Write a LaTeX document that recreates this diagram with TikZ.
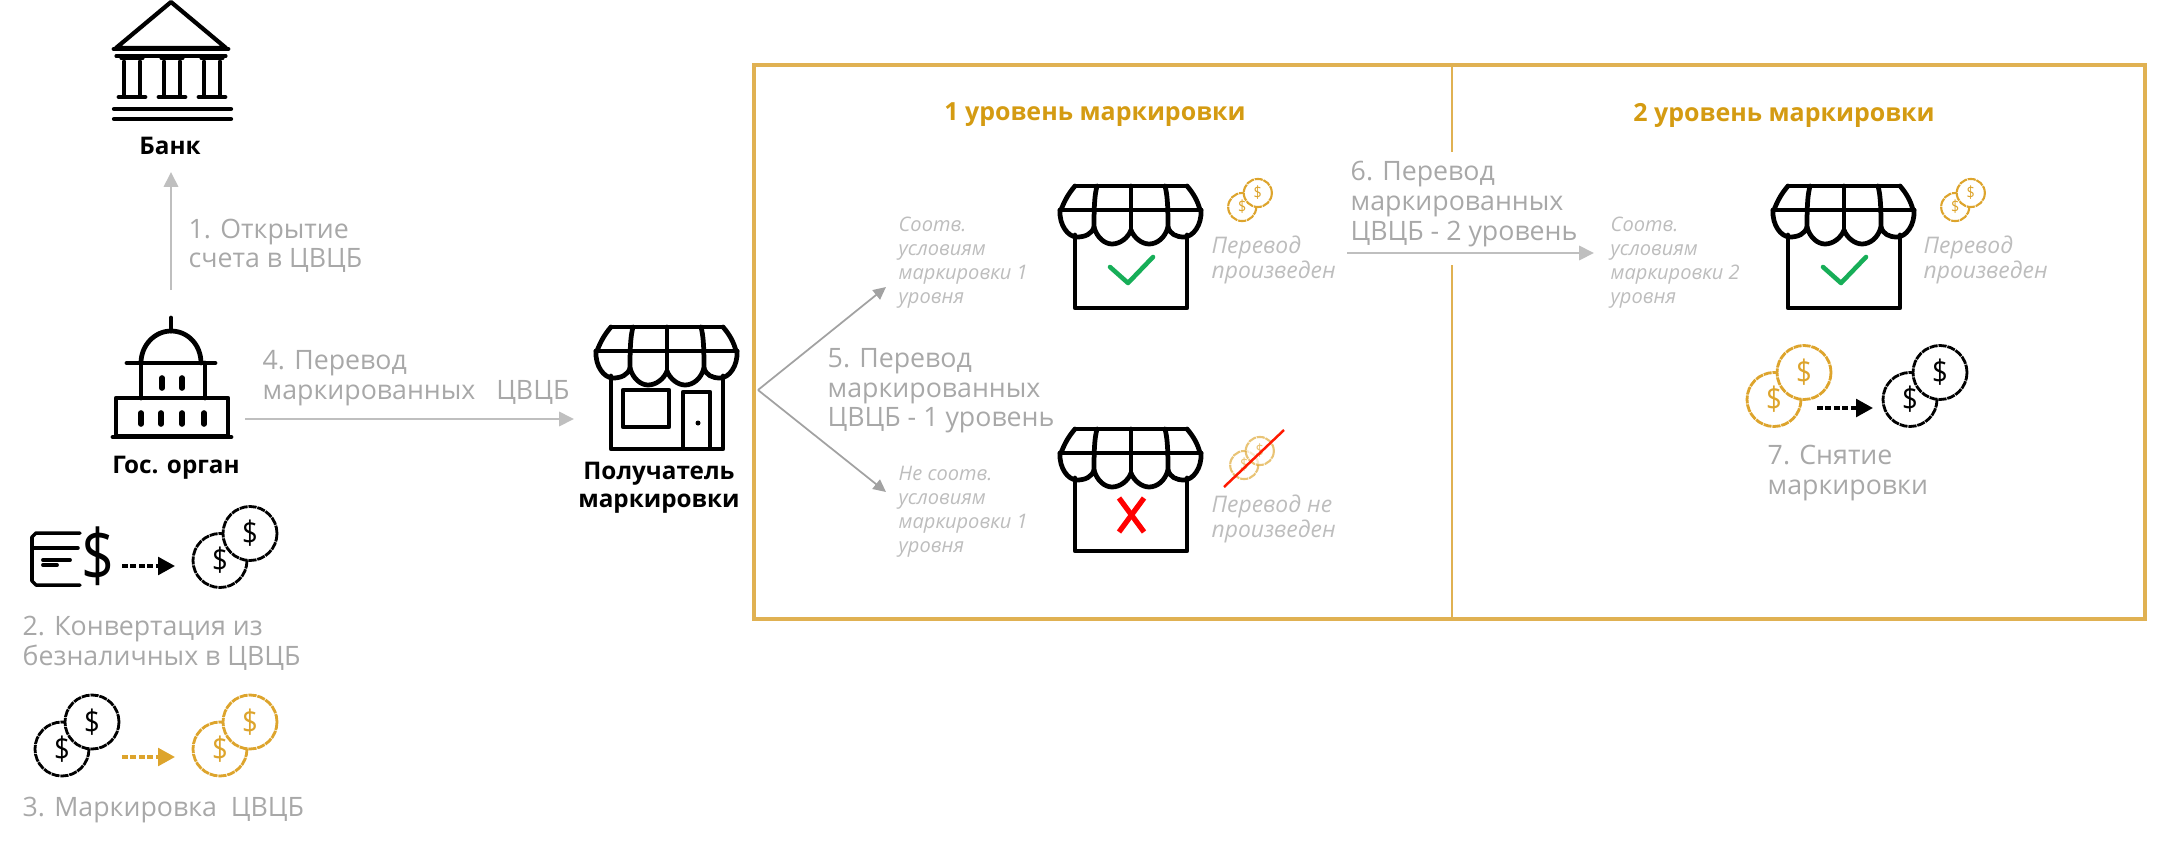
\documentclass[tikz,border=0pt]{standalone}
\usepackage{fontspec}
\setmainfont{Open Sans}
\usetikzlibrary{arrows.meta}
\definecolor{goldline}{HTML}{E0B152}
\definecolor{goldtext}{HTML}{D49B12}
\definecolor{goldcoin}{HTML}{DDA42C}
\definecolor{greytext}{HTML}{A8A8A8}
\definecolor{paletext}{HTML}{BDBDBD}
\definecolor{greyline}{HTML}{BFBFBF}
\definecolor{okgreen}{HTML}{17AE58}
\tikzset{
  x=0.01cm,y=-0.01cm,
  icon/.style={draw=black,line width=1.35pt,line cap=round,line join=round},
  steptext/.style={inner sep=0pt,anchor=west,align=left,text=greytext,font=\fontsize{7.6}{8.4}\selectfont},
  boldlabel/.style={inner sep=0pt,align=center,text=black,font=\bfseries\fontsize{6.9}{8}\selectfont},
  leveltitle/.style={inner sep=0pt,text=goldtext,font=\bfseries\fontsize{7.1}{8.4}\selectfont},
  smallnote/.style={inner sep=0pt,anchor=west,align=left,text=paletext,font=\itshape\fontsize{5.7}{6.8}\selectfont},
  donenote/.style={smallnote,font=\itshape\fontsize{6.5}{7}\selectfont},
  greyarrow/.style={draw=greyline,line width=.8pt,-{Triangle[length=4.2pt,width=4pt]}},
  thinarrow/.style={draw=greyline!85!black,line width=.5pt,-{Triangle[length=3.6pt,width=3.4pt]}},
  dasharrow/.style={draw=#1,line width=1pt,dash pattern=on 1.6pt off .8pt,-{Triangle[length=4.8pt,width=5pt,fill=#1]}},
  pics/coins/.style 2 args={code={
    \tikzset{coinline/.style={draw=#1,line width=#2,dash pattern=on 2.3pt off .25pt}}
    \draw[coinline,fill=white] (-15,13.5) circle[radius=27];
    \node[inner sep=0pt,text=#1,xscale=.85,font=\fontsize{9.2}{9.5}\selectfont] (-a) at (-15,13.5) {\$};
    \draw[coinline,fill=white] (15,-13.5) circle[radius=27];
    \node[inner sep=0pt,text=#1,xscale=.85,font=\fontsize{9.2}{9.5}\selectfont] (-b) at (15,-13.5) {\$};
  }},
  pics/shop/.style={code={
    \draw[icon] (15,50) -- (15,123) -- (127,123) -- (127,50);
    \draw[icon] (15,1) -- (127,1);
    \draw[icon] (0,25) -- (141,25);
    \draw[icon] (15,1) .. controls (8,9) and (4,17) .. (1,25);
    \draw[icon] (127,1) .. controls (134,9) and (138,17) .. (140,25);
    \draw[icon] (37,1) .. controls (35,9) and (34,17) .. (34,42);
    \draw[icon] (71,1) -- (71,45);
    \draw[icon] (105,1) .. controls (107,9) and (108,17) .. (108,42);
    \draw[icon] (0,25) .. controls (-1,40) and (8,52) .. (17,52) .. controls (25,52) and (32,49) .. (34,42)
      .. controls (37,53) and (45,59) .. (52,59) .. controls (60,59) and (68,53) .. (71,45)
      .. controls (74,53) and (82,59) .. (89,59) .. controls (97,59) and (105,53) .. (108,42)
      .. controls (110,49) and (116,52) .. (124,52) .. controls (133,52) and (142,40) .. (141,25);
  }},
}
\begin{document}
\begin{tikzpicture}
\useasboundingbox (0,0) rectangle (2160,845);

% frame
\coordinate (ftl) at (754,65);
\coordinate (fbr) at (2145,619);
\coordinate (dtop) at (1452,65);
\coordinate (dmida) at (1452,152);
\coordinate (dmidb) at (1452,265);
\coordinate (dbot) at (1452,619);
\draw[goldline,line width=1.05pt] (ftl) rectangle (fbr);
\draw[goldline,line width=.7pt] (dtop) -- (dmida);
\draw[goldline,line width=.7pt] (dmidb) -- (dbot);

\node[leveltitle] (t1) at (1095,115) {1 уровень маркировки};
\node[leveltitle] (t2) at (1784,115) {2 уровень маркировки};

% bank
\draw[icon,line width=1.2pt] (171,2) -- (116,48) -- (226,48) -- cycle;
\draw[icon,line width=1.4pt] (114,49) -- (228,49);
\draw[icon,line width=.9pt] (116,56) -- (226,56);
\foreach \cx in {132,172,212}{
  \draw[icon,line width=.9pt] (\cx-11,58) -- (\cx+11,58);
  \draw[icon] (\cx-8,62) -- (\cx-8,96);
  \draw[icon] (\cx+8,62) -- (\cx+8,96);
  \draw[icon] (\cx-13,97) -- (\cx+13,97);
}
\draw[icon,line width=1.2pt] (114,109) -- (231,109);
\draw[icon,line width=1.2pt] (114,119) -- (231,119);
\node[boldlabel] (banklabel) at (170,146) {Банк};

% government
\draw[icon] (171,318) -- (171,331);
\draw[icon] (141,363) .. controls (141,345) and (155,331) .. (171,331) .. controls (188,331) and (201,345) .. (201,363);
\draw[icon] (127,363) -- (215,363);
\draw[icon] (141,363) -- (141,398);
\draw[icon] (205,363) -- (205,398);
\foreach \wx in {162,182}{\draw[icon,line width=1.6pt] (\wx,378) -- (\wx,388);}
\draw[icon] (116,398) rectangle (228,436);
\draw[icon] (113,437) -- (231,437);
\foreach \wx in {141,161,182,204}{\draw[icon,line width=1.6pt] (\wx,413) -- (\wx,424);}
\node[boldlabel] (govlabel) at (176,468) {Гос. орган};

% arrow 1
\coordinate (govtop) at (171,290);
\coordinate (bankbot) at (171,172);
\draw[greyarrow] (govtop) -- (bankbot);
\node[steptext] (s1) at (188,246) {1. Открытие\\счета в ЦВЦБ};

% arrow 4
\coordinate (govright) at (245,419);
\coordinate (shopleft) at (574,419);
\draw[greyarrow] (govright) -- (shopleft);
\node[steptext] (s4) at (262,378) {4. Перевод\\маркированных~~~ЦВЦБ};

% recipient shop
\pic (bigshop) at (596,326) {shop};
\draw[icon] (623,390) rectangle (669,427);
\draw[icon] (683,392) rectangle (710,449);
\fill (698,423) circle[radius=2.5];
\node[boldlabel] (reclabel) at (659,488) {Получатель\\маркировки};

% card and dollar
\draw[icon,line width=1pt] (80,533) -- (36,533) -- (32,537) -- (32,581) -- (36,585) -- (80,585);
\draw[icon,line width=1pt] (32,548) -- (78,548);
\draw[icon,line width=1.1pt] (43,560) -- (70,560);
\draw[icon,line width=1.1pt] (43,565) -- (57,565);
\node[inner sep=0pt,xscale=.8,font=\fontsize{20.5}{21}\selectfont] (bigdollar) at (98,556) {\$};
\coordinate (d2a) at (122,566);
\coordinate (d2b) at (175,566);
\draw[dasharrow=black] (d2a) -- (d2b);
\pic (c2) at (235,547) {coins={black}{.8pt}};
\node[steptext] (s2) at (22,643.5) {2. Конвертация из\\безналичных в ЦВЦБ};

\pic (c3a) at (77,735.5) {coins={black}{.8pt}};
\coordinate (d3a) at (122,757);
\coordinate (d3b) at (175,757);
\draw[dasharrow=goldcoin] (d3a) -- (d3b);
\pic (c3b) at (235,735.5) {coins={goldcoin}{.8pt}};
\node[steptext] (s3) at (22,810) {3. Маркировка~~ЦВЦБ};

% branch arrows
\coordinate (fork) at (758,390);
\coordinate (forkup) at (886,287);
\coordinate (forkdown) at (886,492);
\draw[thinarrow] (fork) -- (forkup);
\draw[thinarrow] (fork) -- (forkdown);
\node[steptext] (s5) at (827,391) {5. Перевод\\маркированных\\ЦВЦБ - 1 уровень};
\node[smallnote] (n1) at (898,263) {Соотв.\\условиям\\маркировки 1\\уровня};
\node[smallnote] (n2) at (898,512) {Не соотв.\\условиям\\маркировки 1\\уровня};

% shops of level 1
\pic (shopa) at (1060,185) {shop};
\draw[okgreen,line width=1.3pt,line cap=round,line join=round] (1110,267) -- (1128,283) -- (1153,257);
\pic (shopb) at (1060,428) {shop};
\draw[red,line width=1.5pt] (1119,498) -- (1144,532);
\draw[red,line width=1.5pt] (1144,498) -- (1119,532);
\pic[scale=.52,transform shape] (ca) at (1250,200) {coins={goldcoin}{.6pt}};
\node[donenote] (n3) at (1211,260) {Перевод\\произведен};
\begin{scope}[opacity=.65]
\pic[scale=.52,transform shape] (cb) at (1252,458) {coins={goldcoin}{.6pt}};
\end{scope}
\coordinate (slasha) at (1224,487);
\coordinate (slashb) at (1284,430);
\draw[red!80!orange,line width=.7pt] (slasha) -- (slashb);
\node[donenote] (n4) at (1211,519) {Перевод не\\произведен};

% arrow 6
\coordinate (a6a) at (1347,253);
\coordinate (a6b) at (1594,253);
\draw[greyarrow] (a6a) -- (a6b);
\node[steptext] (s6) at (1350,204) {6. Перевод\\маркированных\\ЦВЦБ - 2 уровень};
\node[smallnote] (n5) at (1610,263) {Соотв.\\условиям\\маркировки 2\\уровня};

% level 2
\pic (shopc) at (1773,185) {shop};
\draw[okgreen,line width=1.3pt,line cap=round,line join=round] (1823,267) -- (1841,283) -- (1866,257);
\pic[scale=.52,transform shape] (cc) at (1963,200) {coins={goldcoin}{.6pt}};
\node[donenote] (n6) at (1923,260) {Перевод\\произведен};
\pic (c7a) at (1789,386) {coins={goldcoin}{.8pt}};
\coordinate (d7a) at (1817,408);
\coordinate (d7b) at (1873,408);
\draw[dasharrow=black] (d7a) -- (d7b);
\pic (c7b) at (1925,386) {coins={black}{.8pt}};
\node[steptext] (s7) at (1767,473) {7. Снятие\\маркировки};
\end{tikzpicture}
\end{document}
